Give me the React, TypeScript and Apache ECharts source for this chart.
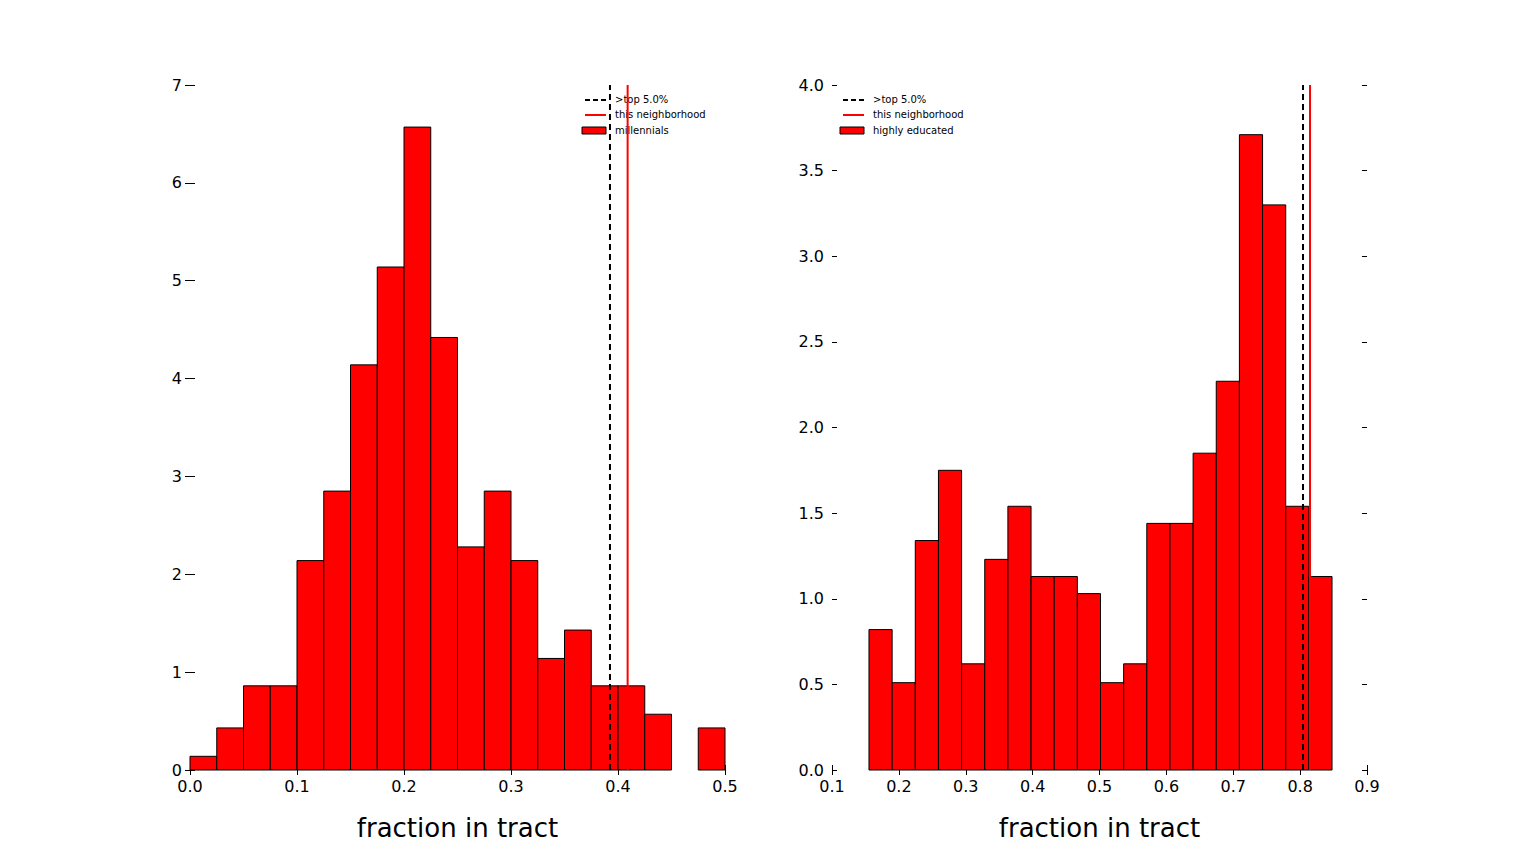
import React, { useEffect, useRef } from "react";
import * as echarts from "echarts";

const leftEdges = [0, 0.025, 0.05, 0.075, 0.1, 0.125, 0.15, 0.175, 0.2, 0.225, 0.25, 0.275, 0.3, 0.325, 0.35, 0.375, 0.4, 0.425, 0.45, 0.475, 0.5];
const leftValues = [0.14, 0.43, 0.86, 0.86, 2.14, 2.85, 4.14, 5.14, 6.57, 4.42, 2.28, 2.85, 2.14, 1.14, 1.43, 0.86, 0.86, 0.57, 0, 0.43];
const leftTop5 = 0.3925;
const leftThis = 0.409;

const rightStart = 0.1553;
const rightWidth = 0.03462;
const rightValues = [0.82, 0.51, 1.34, 1.75, 0.62, 1.23, 1.54, 1.13, 1.13, 1.03, 0.51, 0.62, 1.44, 1.44, 1.85, 2.27, 3.71, 3.3, 1.54, 1.13];
const rightTop5 = 0.8043;
const rightThis = 0.8148;

const font = "DejaVu Sans";

function axesFor(idx: number, min: number, max: number, xi: number, ymax: number, yi: number, yfix: number) {
  const tick = { show: true, inside: true, length: 5, lineStyle: { color: "#000" } };
  const lab = { color: "#000", fontFamily: font, fontSize: 16 };
  return {
    x: [
      { type: "value", gridIndex: idx, min, max, interval: xi, axisLine: { show: false }, axisTick: tick, splitLine: { show: false },
        axisLabel: { ...lab, margin: 8, formatter: (v: number) => v.toFixed(1) }, name: "fraction in tract", nameLocation: "middle", nameGap: 45,
        nameTextStyle: { color: "#000", fontFamily: font, fontSize: 26 } },
      { type: "value", gridIndex: idx, position: "top", min, max, interval: xi, axisLine: { show: false }, axisTick: tick, splitLine: { show: false }, axisLabel: { show: false } },
    ],
    y: [
      { type: "value", gridIndex: idx, min: 0, max: ymax, interval: yi, axisLine: { show: false }, axisTick: tick, splitLine: { show: false },
        axisLabel: { ...lab, margin: 8, formatter: (v: number) => v.toFixed(yfix) } },
      { type: "value", gridIndex: idx, position: "right", min: 0, max: ymax, interval: yi, axisLine: { show: false }, axisTick: tick, splitLine: { show: false }, axisLabel: { show: false } },
    ],
  };
}

function barSeries(idx: number, data: number[][]) {
  return {
    type: "custom", xAxisIndex: idx * 2, yAxisIndex: idx * 2, data,
    renderItem: (params: any, api: any) => {
      const p0 = api.coord([api.value(0), 0]);
      const p1 = api.coord([api.value(1), api.value(2)]);
      if (api.value(2) <= 0) return null;
      return { type: "rect", shape: { x: p0[0], y: p1[1], width: p1[0] - p0[0], height: p0[1] - p1[1] },
        style: { fill: "#ff0000", stroke: "#000", lineWidth: 1 } };
    },
  };
}

function vline(idx: number, x: number, ymax: number, color: string, dashed: boolean) {
  return { type: "line", xAxisIndex: idx * 2, yAxisIndex: idx * 2, data: [[x, 0], [x, ymax]], symbol: "none",
    lineStyle: { color, width: 2, type: dashed ? [6, 4] : "solid" }, z: 5 };
}

function legend(x: number, y: number, label: string) {
  const t = (ty: number, s: string) => ({ type: "text", left: x + 30, top: ty - 6, style: { text: s, fontSize: 10, fontFamily: font, fill: "#000" } });
  return [
    { type: "line", shape: { x1: x, y1: y, x2: x + 21, y2: y }, style: { stroke: "#000", lineWidth: 2, lineDash: [5, 3] } },
    t(y, ">top 5.0%"),
    { type: "line", shape: { x1: x, y1: y + 15, x2: x + 21, y2: y + 15 }, style: { stroke: "#ff0000", lineWidth: 2 } },
    t(y + 15, "this neighborhood"),
    { type: "rect", shape: { x: x - 3, y: y + 27, width: 24, height: 7 }, style: { fill: "#ff0000", stroke: "#000", lineWidth: 1 } },
    t(y + 31, label),
  ];
}

export default function App() {
  const ref = useRef<HTMLDivElement>(null);
  useEffect(() => {
    const chart = echarts.init(ref.current!, null, { renderer: "svg" });
    const a = axesFor(0, 0, 0.5, 0.1, 7, 1, 0);
    const b = axesFor(1, 0.1, 0.9, 0.1, 4, 0.5, 1);
    const leftData = leftValues.map((v, i) => [leftEdges[i], leftEdges[i + 1], v]);
    const rightData = rightValues.map((v, i) => [rightStart + i * rightWidth, rightStart + (i + 1) * rightWidth, v]);
    chart.setOption({
      animation: false,
      backgroundColor: "#fff",
      grid: [
        { left: 190, right: 793, top: 85, bottom: 87 },
        { left: 832, right: 151, top: 85, bottom: 87 },
      ],
      xAxis: [...a.x, ...b.x],
      yAxis: [...a.y, ...b.y],
      series: [
        barSeries(0, leftData),
        vline(0, leftTop5, 7, "#000", true),
        vline(0, leftThis, 7, "#ff0000", false),
        barSeries(1, rightData),
        { ...vline(1, rightTop5, 4, "#000", true), xAxisIndex: 2, yAxisIndex: 2 },
        { ...vline(1, rightThis, 4, "#ff0000", false), xAxisIndex: 2, yAxisIndex: 2 },
      ],
      graphic: [...legend(585, 100, "millennials"), ...legend(843, 100, "highly educated")],
    });
    return () => chart.dispose();
  }, []);
  return <div ref={ref} style={{ width: 1518, height: 857, position: "absolute", left: 0, top: 0 }} />;
}
